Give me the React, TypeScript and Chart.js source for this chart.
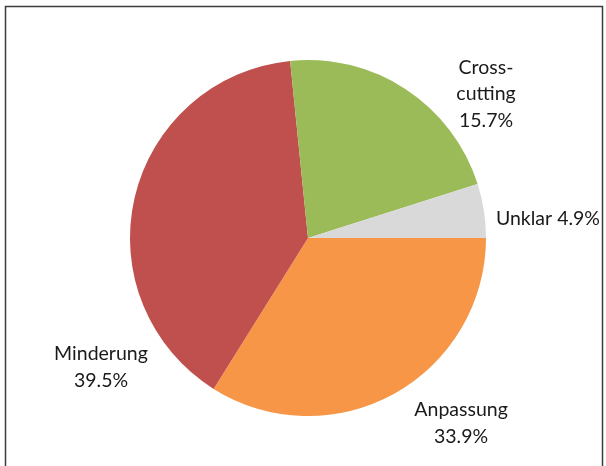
import React, { useEffect, useRef } from "react";
import { Chart, registerables } from "chart.js";

Chart.register(...registerables);

// Data
const categories = ["Anpassung", "Minderung", "Cross-cutting", "Unklar"];
const sliceValues = [33.9, 39.5, 21.7, 4.9];
const percentLabels = ["33.9%", "39.5%", "15.7%", "4.9%"];
const labelLines = [
  ["Anpassung", "33.9%"],
  ["Minderung", "39.5%"],
  ["Cross-", "cutting", "15.7%"],
  ["Unklar 4.9%"],
];
const sliceColors = ["#F79646", "#C0504D", "#9BBB59", "#D9D9D9"];

// label anchor offsets, in units of the pie radius from its centre
const labelAnchors = [
  [0.86, 1.04],
  [-1.163, 0.725],
  [1.0, -0.809],
  [1.348, -0.107],
];

const FONT = "Lato, 'Open Sans', sans-serif";

const framePlugin = {
  id: "frame",
  beforeDraw(chart: any) {
    const { ctx, width, height } = chart;
    ctx.save();
    ctx.fillStyle = "#ffffff";
    ctx.fillRect(0, 0, width, height);
    ctx.strokeStyle = "#3c3c3c";
    ctx.lineWidth = 1.5;
    ctx.strokeRect(5.5, 6.5, width - 9, height + 10);
    ctx.restore();
  },
};

const labelPlugin = {
  id: "sliceLabels",
  afterDraw(chart: any) {
    const meta = chart.getDatasetMeta(0);
    if (!meta || !meta.data.length) return;
    const arc0 = meta.data[0];
    const cx = arc0.x;
    const cy = arc0.y;
    const r = arc0.outerRadius;
    const { ctx } = chart;
    ctx.save();
    ctx.fillStyle = "#1a1a1a";
    ctx.font = `19.5px ${FONT}`;
    ctx.textAlign = "center";
    ctx.textBaseline = "middle";
    const lh = 26.5;
    labelLines.forEach((lines, i) => {
      const [fx, fy] = labelAnchors[i];
      const x = cx + fx * r;
      const y = cy + fy * r;
      lines.forEach((line, j) => {
        ctx.fillText(line, x, y + (j - (lines.length - 1) / 2) * lh);
      });
    });
    ctx.restore();
  },
};

export default function App() {
  const canvasRef = useRef<HTMLCanvasElement | null>(null);

  useEffect(() => {
    if (!canvasRef.current) return;
    const chart = new Chart(canvasRef.current, {
      type: "pie",
      data: {
        labels: categories,
        datasets: [
          {
            data: sliceValues,
            backgroundColor: sliceColors,
            borderWidth: 0,
          },
        ],
      },
      options: {
        animation: false,
        responsive: false,
        rotation: 90,
        layout: { padding: { left: 130, right: 120, top: 60, bottom: 50 } },
        plugins: {
          legend: { display: false },
          tooltip: { enabled: false },
          title: { display: false },
        },
      },
      plugins: [framePlugin, labelPlugin],
    });
    return () => chart.destroy();
  }, []);

  return (
    <div style={{ position: "fixed", left: 0, top: 0, width: 606, height: 466 }}>
      <canvas
        ref={canvasRef}
        width={606}
        height={466}
        style={{ width: 606, height: 466, display: "block" }}
        aria-label={categories.map((c, i) => `${c} ${percentLabels[i]}`).join(", ")}
      />
    </div>
  );
}
